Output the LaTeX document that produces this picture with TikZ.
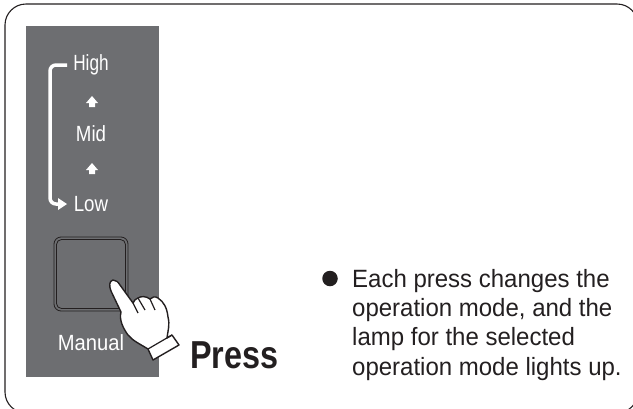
\documentclass[tikz,border=0pt]{standalone}
\usepackage{fontspec}
\setmainfont{Liberation Sans}
\usepackage{xcolor}
\usetikzlibrary{positioning,arrows.meta}
\definecolor{panelgray}{RGB}{109,110,113}
\definecolor{inkblack}{RGB}{35,31,32}

\begin{document}
\begin{tikzpicture}[
  x=1pt, y=-1pt,
  lbl/.style={text=white, font=\fontsize{22}{24}\selectfont, xscale=0.85, inner sep=0pt, anchor=center},
  tip/.style={fill=white, draw=none},
  body/.style={text=inkblack, font=\fontsize{25}{29.3}\selectfont, xscale=0.96, align=left, anchor=base west, inner sep=0pt},
  cycle/.style={draw=white, line width=3.5pt, rounded corners=6pt}
]
\useasboundingbox (0,0) rectangle (633,408);
% frame and panel
\draw[inkblack, line width=1.1pt, rounded corners=21pt] (5,4) rectangle (638,413);
\fill[panelgray] (26,26) rectangle (159,377);

% mode labels
\node[lbl, xscale=0.92] (high) at (91,65) {High};
\node[lbl] (mid) at (91,134) {Mid};
\node[lbl] (low) at (91,204) {Low};
\node[lbl, xscale=1.08] (manual) at (91,343) {Manual};

% small arrows between the labels
\fill[tip] (92,96) -- (98,103) -- (95,103) -- (95,107) -- (89,107) -- (89,103) -- (86,103) -- cycle;
\fill[tip] (92,163) -- (98,170) -- (95,170) -- (95,174) -- (89,174) -- (89,170) -- (86,170) -- cycle;

% loop from High back to Low
\coordinate (loopa) at (67,65);
\coordinate (loopb) at (60,204);
\draw[cycle] (loopa) -- (50,65) -- (50,204) -- (loopb);
\fill[tip] (67,204) -- (58,198) -- (58,210) -- cycle;

% button
\draw[inkblack, line width=0.8pt, rounded corners=7pt] (54,237) rectangle (128,311);
\draw[inkblack, line width=0.8pt, rounded corners=5pt] (56.5,239.5) rectangle (125.5,308.5);

% hand
\draw[fill=white, draw=inkblack, line width=1.4pt, line join=round]
  (113,280) .. controls (109,281) and (109,286) .. (111,291)
  -- (121,312) .. controls (119,320) and (123,328) .. (128,335)
  .. controls (133,341) and (140,344) .. (148,349)
  -- (153,360) -- (179,345) -- (172,335) -- (167,338)
  .. controls (168,330) and (170,325) .. (168,317)
  .. controls (167,308) and (164,302) .. (158,298)
  .. controls (155,296) and (152,297) .. (150,299)
  .. controls (146,296) and (141,296) .. (138,298)
  .. controls (136,299) and (134,300) .. (133,303)
  -- (120,285) .. controls (118,282) and (116,280) .. (113,280) -- cycle;
\draw[inkblack, line width=1.2pt] (148,349) -- (172,335);
\draw[inkblack, line width=1.2pt] (138,298) -- (145,310);
\draw[inkblack, line width=1.2pt] (150,299) -- (155,310);
\draw[inkblack, line width=1.2pt] (133,303) -- (138,313);

% texts on the right
\node[text=inkblack, font=\bfseries\fontsize{39}{42}\selectfont, xscale=0.83, inner sep=0pt, anchor=base west] (press) at (190,368) {Press};
\node[circle, fill=inkblack, inner sep=0pt, minimum size=15.5pt] (dot) at (330,278.5) {};
\node[body] (note) at (352,375) {Each press changes the\\operation mode, and the\\lamp for the selected\\operation mode lights up.};
\end{tikzpicture}
\end{document}
